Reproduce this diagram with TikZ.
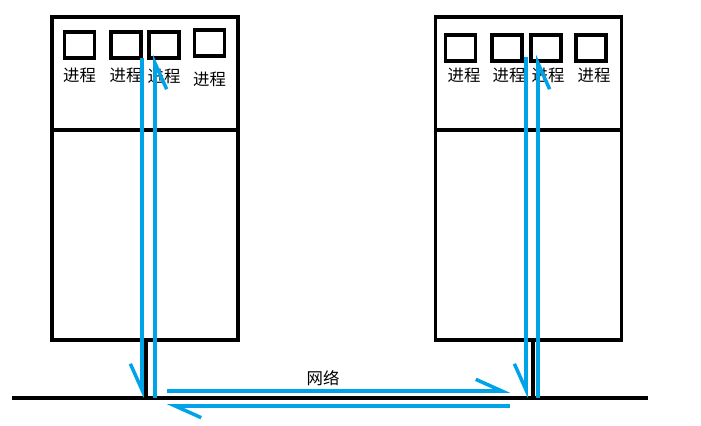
\documentclass[tikz,border=0pt]{standalone}
\usepackage{fontspec}
\setmainfont{Noto Sans CJK SC}
\usepackage{xcolor}
\usetikzlibrary{positioning, arrows.meta, calc}
\definecolor{paintblue}{HTML}{00A2E8}

\begin{document}
\begin{tikzpicture}[x=0.03cm, y=-0.03cm,
    server/.style={draw, line width=3pt, minimum width=5.58cm, minimum height=9.69cm},
    proc/.style={draw, line width=3pt, minimum width=0.9cm, minimum height=0.78cm},
    lbl/.style={font=\fontsize{14}{16}\selectfont, inner sep=0pt},
    wire/.style={line width=3pt},
    flow/.style={paintblue, line width=3pt, -{Straight Barb[harpoon, length=0.78cm, width=0.7cm, line width=3pt]}},
    flowsw/.style={paintblue, line width=3pt, -{Straight Barb[harpoon, swap, length=0.78cm, width=0.7cm, line width=3pt]}}]
  \useasboundingbox (0,0) rectangle (701,426);

  \node[server] (srvL) at (145,178.5) {};
  \node[server] (srvR) at (528.5,178.5) {};
  \draw[wire] ($(srvL.north west)+(0,115)$) coordinate (divLa) -- ($(srvL.north east)+(0,115)$) coordinate (divLb);
  \draw[wire] ($(srvR.north west)+(0,115)$) coordinate (divRa) -- ($(srvR.north east)+(0,115)$) coordinate (divRb);

  \foreach \i/\x/\y/\ly in {1/79.5/45/75, 2/126/45/75, 3/164/45/76, 4/209.5/43/79}{
    \node[proc] (procL\i) at (\x,\y) {};
    \node[lbl] (lblL\i) at (\x,\ly) {进程};
  }
  \foreach \i/\x/\lx in {1/460.5/464, 2/507/509, 3/546/548, 4/591/594}{
    \node[proc] (procR\i) at (\x,48) {};
    \node[lbl] (lblR\i) at (\lx,75) {进程};
  }

  \coordinate (netW) at (12,398);
  \coordinate (netE) at (648,398);
  \draw[wire] (netW) -- (netE);
  \draw[wire] (146,0 |- srvL.south) coordinate (tapL) -- (tapL |- netW);
  \draw[wire] (533,0 |- srvR.south) coordinate (tapR) -- (tapR |- netW);

  \node[lbl] (net) at (323,378) {网络};

  \coordinate (dnL) at (142,58);
  \coordinate (upL) at (155,55);
  \coordinate (dnR) at (526,57);
  \coordinate (upR) at (538,55);
  \coordinate (busA) at (167,391);
  \coordinate (busB) at (510,391);
  \coordinate (busC) at (510,406);
  \coordinate (busD) at (167,406);

  \draw[flowsw] (dnL) -- (dnL |- netW);
  \draw[flowsw] (upL |- netW) -- (upL);
  \draw[flowsw] (dnR) -- (dnR |- netW);
  \draw[flowsw] (upR |- netW) -- (upR);
  \draw[flow] (busA) -- (busB);
  \draw[flow] (busC) -- (busD);
\end{tikzpicture}
\end{document}
